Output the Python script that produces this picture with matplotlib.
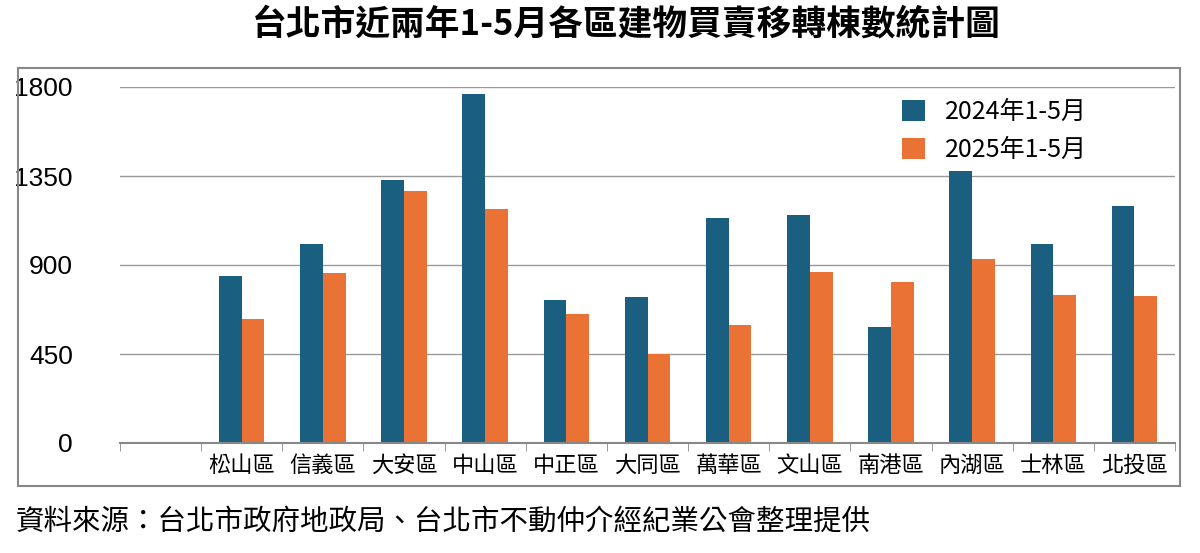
import matplotlib
matplotlib.use("Agg")
import matplotlib.pyplot as plt
from matplotlib.patches import Rectangle

plt.rcParams['font.family'] = ['Noto Sans CJK TC']

categories = ["", "松山區", "信義區", "大安區", "中山區", "中正區", "大同區", "萬華區", "文山區", "南港區", "內湖區", "士林區", "北投區"]
s2024 = [None, 844, 1006, 1330, 1765, 723, 738, 1138, 1153, 587, 1375, 1006, 1198]
s2025 = [None, 627, 860, 1274, 1183, 652, 450, 597, 865, 814, 930, 748, 743]
yticks = [0, 450, 900, 1350, 1800]

fig = plt.figure(figsize=(12, 5.53), dpi=100)
fig.patches.append(Rectangle((18/1200, 1-486/553), (1180-18)/1200, (486-68)/553,
                             transform=fig.transFigure, fill=False, edgecolor='#888888', lw=1.5))
ax = fig.add_axes([120/1200, 1-443/553, (1175-120)/1200, (443-87)/553])
w = 0.28
for i, (a, b) in enumerate(zip(s2024, s2025)):
    if a is None:
        continue
    ax.bar(i - w/2, a, w, color='#1b5f80', label='2024年1-5月' if i == 1 else None)
    ax.bar(i + w/2, b, w, color='#ea7235', label='2025年1-5月' if i == 1 else None)
ax.set_xlim(-0.5, len(categories) - 0.5)
ax.set_ylim(0, 1800)
ax.set_yticks(yticks)
ax.set_yticklabels([str(v) for v in yticks], fontsize=19, fontfamily='Liberation Sans')
ax.yaxis.grid(True, color='#999999', lw=1)
ax.set_axisbelow(True)
ax.set_xticks([i - 0.5 for i in range(len(categories) + 1)], minor=True)
ax.set_xticks(range(len(categories)))
ax.set_xticklabels(categories, fontsize=16)
ax.tick_params(axis='x', which='major', length=0, pad=8)
ax.tick_params(axis='x', which='minor', length=6, color='#888888')
ax.tick_params(axis='y', length=0, pad=34)
for s in ['top', 'right', 'left']:
    ax.spines[s].set_visible(False)
ax.spines['bottom'].set_color('#888888')
ax.spines['bottom'].set_linewidth(1.5)
leg = ax.legend(loc='upper left', bbox_to_anchor=(0.72, 1.03), frameon=False, fontsize=18,
                handlelength=0.9, handleheight=0.9, labelspacing=0.5)
fig.text(0.522, 1-24/553, "台北市近兩年1-5月各區建物買賣移轉棟數統計圖", ha='center', va='center',
         fontsize=25, fontweight='bold')
fig.text(16/1200, 1-522/553, "資料來源：台北市政府地政局、台北市不動仲介經紀業公會整理提供", ha='left', va='center',
         fontsize=20.5)
fig.savefig("out.png", dpi=100)
